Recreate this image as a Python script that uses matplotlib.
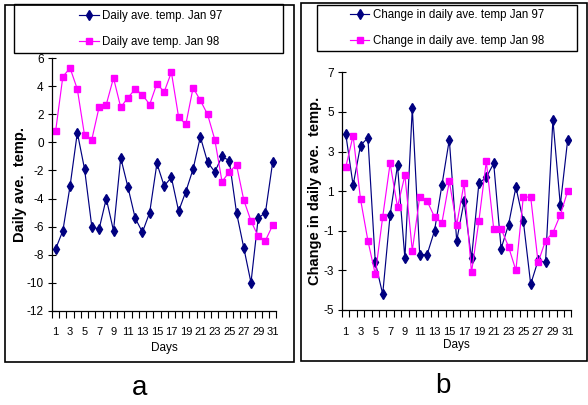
import numpy as np
import matplotlib
matplotlib.use("Agg")
import matplotlib.pyplot as plt
from matplotlib.patches import Rectangle

# data
days = list(range(1, 32))
temp_97 = [-7.6, -6.3, -3.1, 0.7, -1.9, -6.0, -6.2, -4.0, -6.3, -1.1,
           -3.2, -5.4, -6.4, -5.0, -1.5, -3.1, -2.5, -4.9, -3.5, -1.9,
           0.4, -1.4, -2.1, -1.0, -1.3, -5.0, -7.5, -10.0, -5.4, -5.0, -1.4]
temp_98 = [0.8, 4.7, 5.3, 3.8, 0.5, 0.2, 2.5, 2.7, 4.6, 2.5,
           3.2, 3.8, 3.4, 2.7, 4.2, 3.6, 5.0, 1.8, 1.3, 3.9,
           3.0, 2.0, 0.2, -2.8, -2.1, -1.6, -4.1, -5.6, -6.7, -7.0, -5.9]
change_97 = [3.9, 1.3, 3.3, 3.7, -2.6, -4.2, -0.2, 2.3, -2.4, 5.2,
             -2.2, -2.2, -1.0, 1.3, 3.6, -1.5, 0.5, -2.4, 1.4, 1.7,
             2.4, -1.9, -0.7, 1.2, -0.5, -3.7, -2.5, -2.6, 4.6, 0.3, 3.6]
change_98 = [2.2, 3.8, 0.6, -1.5, -3.2, -0.3, 2.4, 0.2, 1.8, -2.0,
             0.7, 0.5, -0.3, -0.6, 1.5, -0.7, 1.4, -3.1, -0.5, 2.5,
             -0.9, -0.9, -1.8, -3.0, 0.7, 0.7, -2.6, -1.5, -1.1, -0.2, 1.0]
day_labels = [str(d) for d in days[::2]]
yticks_a = [-12, -10, -8, -6, -4, -2, 0, 2, 4, 6]
yticks_b = [-5, -3, -1, 1, 3, 5, 7]

plt.rcParams["font.family"] = ["Liberation Sans", "DejaVu Sans"]
plt.rcParams["axes.unicode_minus"] = False

W, H = 588, 405
BLUE = "#000080"
PINK = "#FF00FF"


def rect(x0, y0, x1, y1):
    return [x0 / W, 1 - y1 / H, (x1 - x0) / W, (y1 - y0) / H]


def box(fig, x0, y0, x1, y1, lw=1.0, color="black"):
    fig.add_artist(Rectangle((x0 / W, 1 - y1 / H), (x1 - x0) / W, (y1 - y0) / H,
                             transform=fig.transFigure, fill=False,
                             edgecolor=color, linewidth=lw))


def panel(ax, s97, s98, lab97, lab98, yticks, ylabel, ylab_x, leg_xy):
    l1, = ax.plot(days, s97, color=BLUE, lw=0.85, marker="d", ms=5.5,
                  mfc=BLUE, mec=BLUE)
    l2, = ax.plot(days, s98, color=PINK, lw=0.85, marker="s", ms=4,
                  mfc=PINK, mec=PINK)
    ax.set_xlim(0.5, 31.5)
    ax.set_ylim(yticks[0], yticks[-1])
    ax.set_yticks(yticks)
    ax.set_xticks(days[::2], day_labels)
    ax.set_xticks(np.arange(0.5, 32, 1), minor=True)
    ax.tick_params(axis="x", which="major", length=0, pad=12, labelsize=8)
    ax.tick_params(axis="x", which="minor", length=5, width=0.8, direction="out")
    ax.tick_params(axis="y", length=6, width=0.8, direction="inout", pad=3,
                   labelsize=8.5)
    for s in ["top", "right"]:
        ax.spines[s].set_visible(False)
    for s in ["left", "bottom"]:
        ax.spines[s].set_linewidth(0.9)
    ax.set_xlabel("Days", fontsize=8.5)
    ax.xaxis.set_label_coords(0.5, -0.148)
    ax.xaxis.label.set_va("center")
    ax.set_ylabel(ylabel, fontsize=10.5, fontweight="bold")
    ax.yaxis.set_label_coords(ylab_x, 0.5)
    ax.yaxis.label.set_va("center")
    fig.legend([l1, l2], [lab97, lab98], loc="center", frameon=False,
               bbox_to_anchor=(leg_xy[0] / W, 1 - leg_xy[1] / H),
               fontsize=8.3, handlelength=1.7, handletextpad=0.3,
               labelspacing=1.2, borderpad=0)


fig = plt.figure(figsize=(5.88, 4.05), dpi=100)

# panel boxes and legend frames
box(fig, 4.5, 4.5, 294, 362, lw=1.2)
box(fig, 301, 3, 587, 361, lw=1.2)
box(fig, 13.5, 4.5, 283, 53)
box(fig, 317, 4.5, 577, 51)

ax_a = fig.add_axes(rect(52, 58.3, 276.3, 310.7))
panel(ax_a, temp_97, temp_98, "Daily ave. temp. Jan 97", "Daily ave temp. Jan 98",
      yticks_a, "Daily ave.  temp.", -0.143, (151, 29))

ax_b = fig.add_axes(rect(342, 72.3, 571.4, 310))
panel(ax_b, change_97, change_98, "Change in daily ave. temp Jan 97",
      "Change in daily ave. temp Jan 98", yticks_b,
      "Change in daily ave.  temp.", -0.118, (447, 28))

fig.text(140 / W, 1 - 388 / H, "a", ha="center", va="center", fontsize=20)
fig.text(443 / W, 1 - 386 / H, "b", ha="center", va="center", fontsize=20)

fig.savefig("out.png", dpi=100)
